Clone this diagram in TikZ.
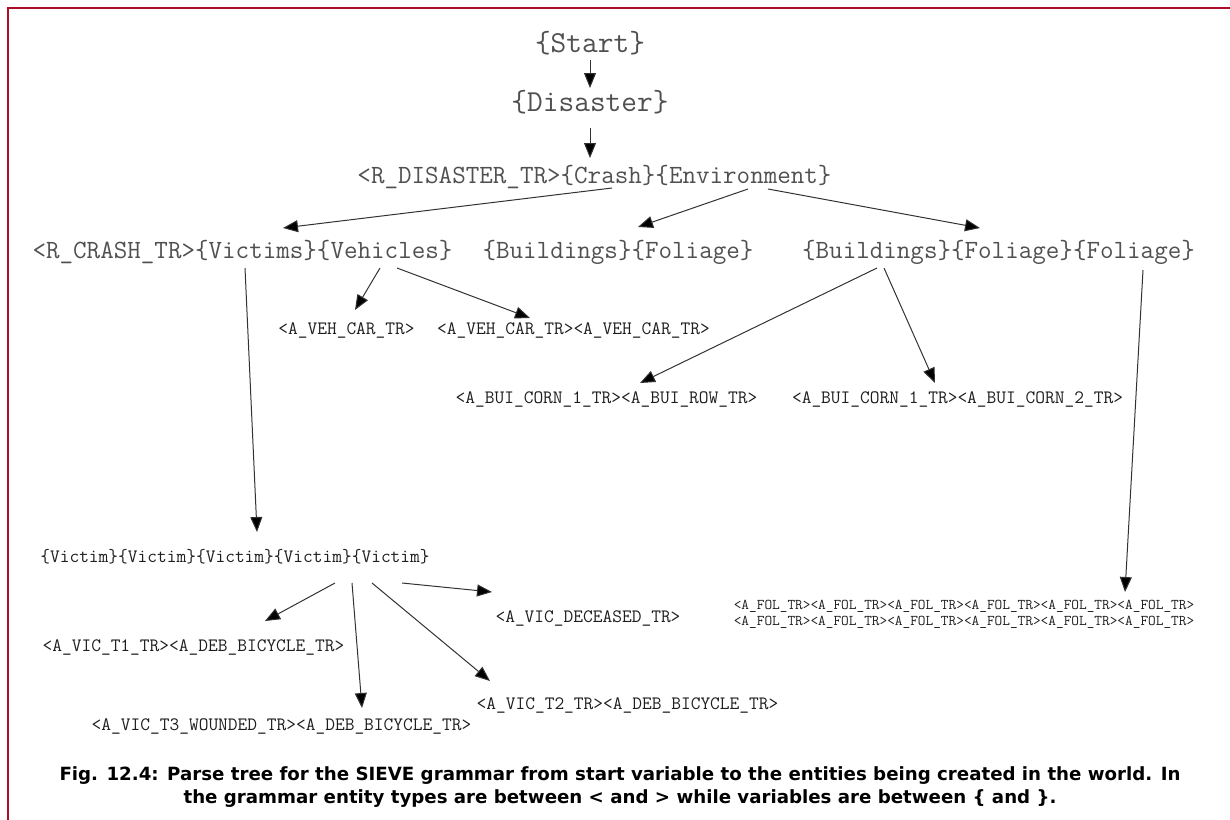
\documentclass[tikz,border=0pt]{standalone}
\usepackage{fontspec}
\newfontfamily\capfont{DejaVu Sans}
\usetikzlibrary{arrows.meta,calc}
\definecolor{framered}{RGB}{176,14,40}
\definecolor{lighttext}{RGB}{80,80,80}
\definecolor{darktext}{RGB}{30,30,30}
\definecolor{linegray}{RGB}{50,50,50}
\tikzset{
  bigterm/.style={inner sep=0pt, text=lighttext, font=\ttfamily\fontsize{30.5}{34}\selectfont},
  midterm/.style={inner sep=0pt, text=lighttext, font=\ttfamily\fontsize{26.3}{30}\selectfont},
  leaf/.style={inner sep=0pt, text=darktext, font=\ttfamily\fontsize{18.9}{22}\selectfont},
  smallleaf/.style={inner sep=0pt, text=darktext, align=center, font=\ttfamily\fontsize{14.9}{16}\selectfont},
  arr/.style={draw=linegray, line width=1pt, -{Triangle[length=15pt,width=12pt,fill=black]}},
  captext/.style={inner sep=0pt, align=center, text=black, font=\capfont\bfseries\fontsize{18.2}{23}\selectfont}
}
\begin{document}
\begin{tikzpicture}[x=1pt,y=-1pt]
\useasboundingbox (0,0) rectangle (1230,819);
% frame
\draw[framered, line width=2.5pt] (8,830) -- (8,8) -- (1240,8);

% derivation nodes
\node[bigterm] (start) at (590,43) {\{Start\}};
\node[bigterm] (dis) at (590,102) {\{Disaster\}};
\node[midterm] (rd) at (594.5,177) {<R\_DISASTER\_TR>\{Crash\}\{Environment\}};
\node[midterm] (rc) at (242.5,252) {<R\_CRASH\_TR>\{Victims\}\{Vehicles\}};
\node[midterm] (bf) at (618,252) {\{Buildings\}\{Foliage\}};
\node[midterm] (bff) at (998.5,252) {\{Buildings\}\{Foliage\}\{Foliage\}};

% entity nodes
\node[leaf] (veh1) at (346.5,330) {<A\_VEH\_CAR\_TR>};
\node[leaf] (veh2) at (573.5,330) {<A\_VEH\_CAR\_TR><A\_VEH\_CAR\_TR>};
\node[leaf] (bui1) at (606.5,399) {<A\_BUI\_CORN\_1\_TR><A\_BUI\_ROW\_TR>};
\node[leaf] (bui2) at (957.5,399) {<A\_BUI\_CORN\_1\_TR><A\_BUI\_CORN\_2\_TR>};
\node[leaf] (vic) at (235,557) {\{Victim\}\{Victim\}\{Victim\}\{Victim\}\{Victim\}};
\node[leaf] (dec) at (588,618) {<A\_VIC\_DECEASED\_TR>};
\node[leaf] (t1) at (193.5,647) {<A\_VIC\_T1\_TR><A\_DEB\_BICYCLE\_TR>};
\node[leaf] (t2) at (627.5,705) {<A\_VIC\_T2\_TR><A\_DEB\_BICYCLE\_TR>};
\node[leaf] (t3) at (281.5,726) {<A\_VIC\_T3\_WOUNDED\_TR><A\_DEB\_BICYCLE\_TR>};
\node[smallleaf] (fol) at (964,614) {<A\_FOL\_TR><A\_FOL\_TR><A\_FOL\_TR><A\_FOL\_TR><A\_FOL\_TR><A\_FOL\_TR>\\<A\_FOL\_TR><A\_FOL\_TR><A\_FOL\_TR><A\_FOL\_TR><A\_FOL\_TR><A\_FOL\_TR>};

% derivation arrows
\draw[arr] ($(start)+(0,17)$) -- ($(dis)+(0,-14)$);
\draw[arr] ($(dis)+(0,26)$) -- ($(rd)+(-4.5,-19)$);
\draw[arr] ($(rd)+(17.5,11)$) -- ($(rc)+(40.5,-24)$);
\draw[arr] ($(rd)+(153.5,12)$) -- ($(bf)+(20,-25)$);
\draw[arr] ($(rd)+(173.5,12)$) -- ($(bff)+(-18.5,-24)$);
\draw[arr] ($(rc)+(2.5,16)$) -- ($(vic)+(22,-25)$);
\draw[arr] ($(rc)+(137.5,16)$) -- ($(veh1)+(8.5,-20)$);
\draw[arr] ($(rc)+(154.5,16)$) -- ($(veh2)+(-43.5,-12)$);
\draw[arr] ($(bff)+(-121.5,16)$) -- ($(bui1)+(33.5,-16)$);
\draw[arr] ($(bff)+(-114.5,16)$) -- ($(bui2)+(-22.5,-16)$);
\draw[arr] ($(bff)+(144.5,18)$) -- ($(fol)+(161,-22)$);
\draw[arr] ($(vic)+(100,26)$) -- ($(t1)+(71.5,-26)$);
\draw[arr] ($(vic)+(117,26)$) -- ($(t3)+(80.5,-18)$);
\draw[arr] ($(vic)+(137,26)$) -- ($(t2)+(-137.5,-24)$);
\draw[arr] ($(vic)+(167,26)$) -- ($(dec)+(-96,-26)$);

% caption
\node[captext] (cap) at (620,787) {Fig. 12.4: Parse tree for the SIEVE grammar from start variable to the entities being created in the world. In\\the grammar entity types are between < and > while variables are between \{ and \}.};
\end{tikzpicture}
\end{document}
